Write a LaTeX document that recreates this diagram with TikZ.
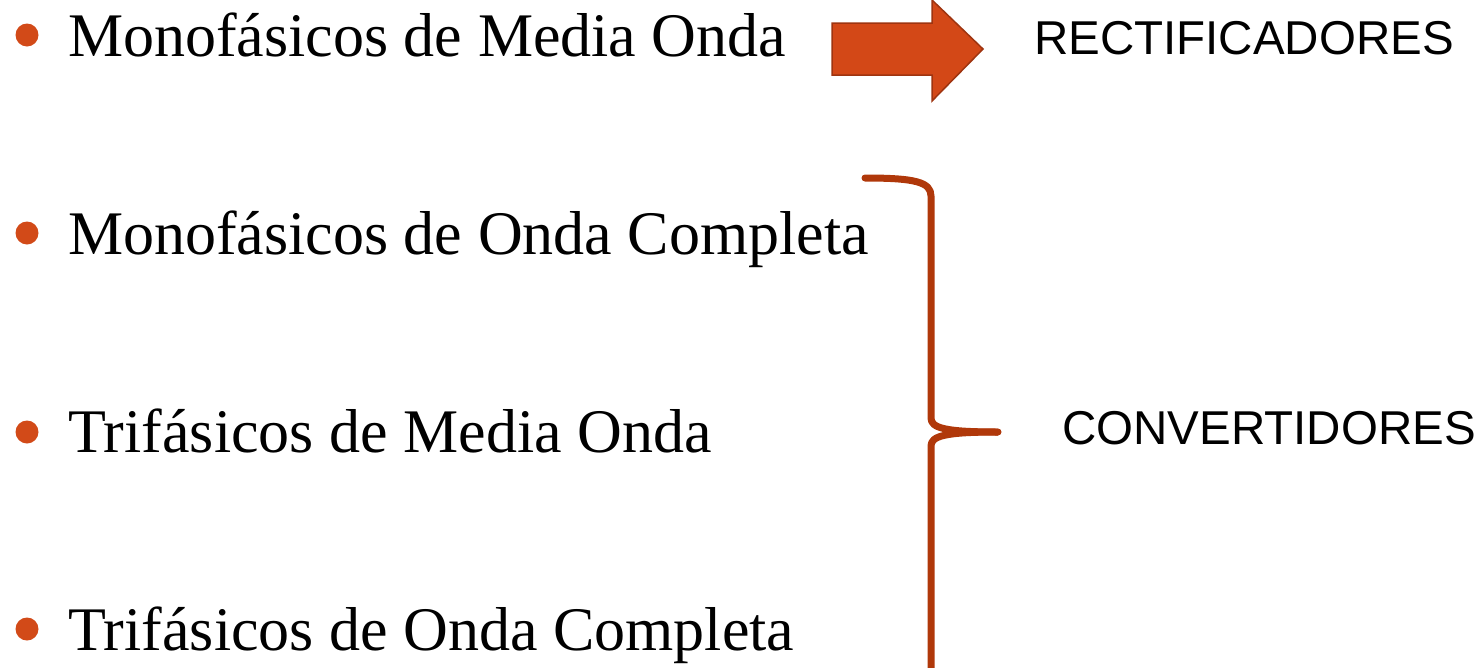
\documentclass[tikz,border=0pt]{standalone}
\usepackage{fontspec}
\setmainfont{Liberation Serif}
\newfontfamily\arialfont{Liberation Sans}
\definecolor{bulletred}{HTML}{D24A18}
\definecolor{arrowfill}{HTML}{D34817}
\definecolor{arrowedge}{HTML}{9E3410}
\definecolor{bracered}{HTML}{B0380A}
\begin{document}
\begin{tikzpicture}[x=1pt,y=-1pt,
  item/.style={anchor=base west,inner sep=0pt,font=\fontsize{62}{74}\selectfont},
  dot/.style={circle,fill=bulletred,minimum size=23pt,inner sep=0pt},
  label/.style={anchor=base west,inner sep=0pt,font=\arialfont\fontsize{47.5}{56}\selectfont},
  bigarrow/.style={fill=arrowfill,draw=arrowedge,line width=1.5pt,line join=miter},
  bracepath/.style={draw=bracered,line width=7pt,line cap=round,line join=round}]
\useasboundingbox (0,0) rectangle (1481,667);
% bullets
\node[dot] (b1) at (27,35) {};
\node[dot] (b2) at (27,233) {};
\node[dot] (b3) at (27,432) {};
\node[dot] (b4) at (27,629) {};
% items
\node[item] (t1) at (68,56) {Monofásicos de Media Onda};
\node[item] (t2) at (68,254) {Monofásicos de Onda Completa};
\node[item] (t3) at (68,452) {Trifásicos de Media Onda};
\node[item] (t4) at (68,650) {Trifásicos de Onda Completa};
% arrow
\draw[bigarrow] (832,23) -- (932,23) -- (932,0) -- (983,49) -- (932,101) -- (932,75) -- (832,75) -- cycle;
% labels
\node[label] (rect) at (1034,54) {RECTIFICADORES};
\node[label] (conv) at (1062,444) {CONVERTIDORES};
% brace
\coordinate (btop) at (865,178);
\coordinate (btip) at (998,432);
\coordinate (bbot) at (931,680);
\draw[bracepath] (btop) .. controls (915,178) and (931,182) .. (931,196) -- (931,418)
  .. controls (931,428) and (945,432) .. (btip);
\draw[bracepath,line cap=butt] (btip) .. controls (945,432) and (931,436) .. (931,446) -- (bbot);
\end{tikzpicture}
\end{document}
